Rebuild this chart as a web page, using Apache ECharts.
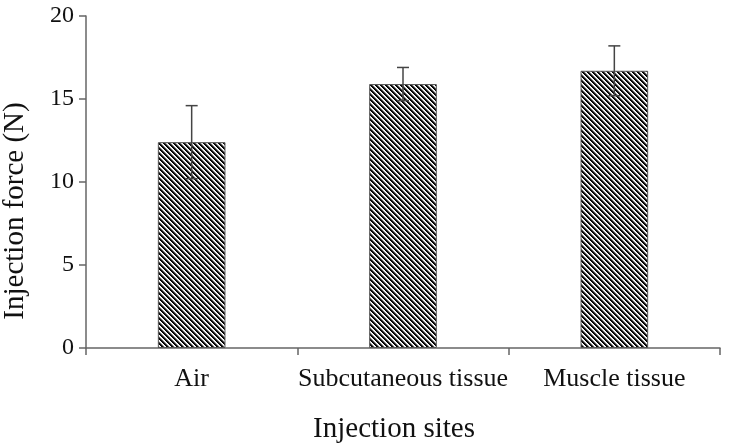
<!DOCTYPE html>
<html>
<head>
<meta charset="utf-8">
<script src="https://cdn.jsdelivr.net/npm/echarts@6/dist/echarts.min.js"></script>
<style>
html,body{margin:0;padding:0;background:#fff;}
#chart{width:730px;height:444px;}
</style>
</head>
<body>
<div id="chart"></div>
<script>
// Data
var categories = ['Air', 'Subcutaneous tissue', 'Muscle tissue'];
var meanForce = [12.4, 15.9, 16.7];
var errorForce = [2.2, 1.0, 1.5];
var yTickMin = 0, yTickMax = 20, yTickStep = 5;

// Hatch pattern (diagonal "\" lines)
function makeHatch() {
  var n = 5;
  var c = document.createElement('canvas');
  c.width = n; c.height = n;
  var ctx = c.getContext('2d');
  var img = ctx.createImageData(n, n);
  var shades = [0, 15, 90, 225, 255];
  for (var y = 0; y < n; y++) {
    for (var x = 0; x < n; x++) {
      var k = ((x - y) % n + n) % n;
      var v = shades[k];
      var i = (y * n + x) * 4;
      img.data[i] = v; img.data[i+1] = v; img.data[i+2] = v; img.data[i+3] = 255;
    }
  }
  ctx.putImageData(img, 0, 0);
  return c;
}

var font = 'Liberation Serif';
var chart = echarts.init(document.getElementById('chart'), null, {renderer: 'canvas'});
var errData = categories.map(function (c, i) { return [i, meanForce[i], errorForce[i]]; });

chart.setOption({
  animation: false,
  backgroundColor: '#fff',
  grid: {left: 86, right: 10, top: 16, bottom: 96, containLabel: false, outerBoundsMode: 'none'},
  xAxis: {
    type: 'category',
    data: categories,
    name: 'Injection sites',
    nameLocation: 'middle',
    nameGap: 67,
    nameTextStyle: {fontFamily: font, fontSize: 29, color: '#111', padding: [0, 18, 0, 0]},
    axisLine: {lineStyle: {color: '#666', width: 1.5}},
    axisTick: {show: true, length: 7, lineStyle: {color: '#666', width: 1.5}},
    axisLabel: {fontFamily: font, fontSize: 26, color: '#111', margin: 18, interval: 0}
  },
  yAxis: {
    type: 'value',
    min: yTickMin, max: yTickMax, interval: yTickStep,
    name: 'Injection force (N)',
    nameLocation: 'middle',
    nameGap: 56,
    nameTextStyle: {fontFamily: font, fontSize: 29, color: '#111', padding: [0, 58, 0, 0]},
    axisLine: {show: true, lineStyle: {color: '#666', width: 1.5}},
    axisTick: {show: true, length: 7, lineStyle: {color: '#666', width: 1.5}},
    axisLabel: {fontFamily: font, fontSize: 24, color: '#111', margin: 12},
    splitLine: {show: false}
  },
  series: [
    {
      type: 'bar',
      data: meanForce,
      barWidth: '32%',
      itemStyle: {
        color: {image: makeHatch(), repeat: 'repeat'},
        borderColor: '#555',
        borderWidth: 1
      },
      z: 2
    },
    {
      type: 'custom',
      data: errData,
      z: 3,
      renderItem: function (params, api) {
        var x = api.value(0), m = api.value(1), e = api.value(2);
        var top = api.coord([x, m + e]);
        var bot = api.coord([x, m - e]);
        var hw = 6;
        var st = {stroke: '#444', lineWidth: 1.5};
        return {
          type: 'group',
          children: [
            {type: 'line', shape: {x1: top[0], y1: top[1], x2: bot[0], y2: bot[1]}, style: st},
            {type: 'line', shape: {x1: top[0] - hw, y1: top[1], x2: top[0] + hw, y2: top[1]}, style: st},
            {type: 'line', shape: {x1: bot[0] - hw, y1: bot[1], x2: bot[0] + hw, y2: bot[1]}, style: st}
          ]
        };
      }
    }
  ]
});
</script>
</body>
</html>
